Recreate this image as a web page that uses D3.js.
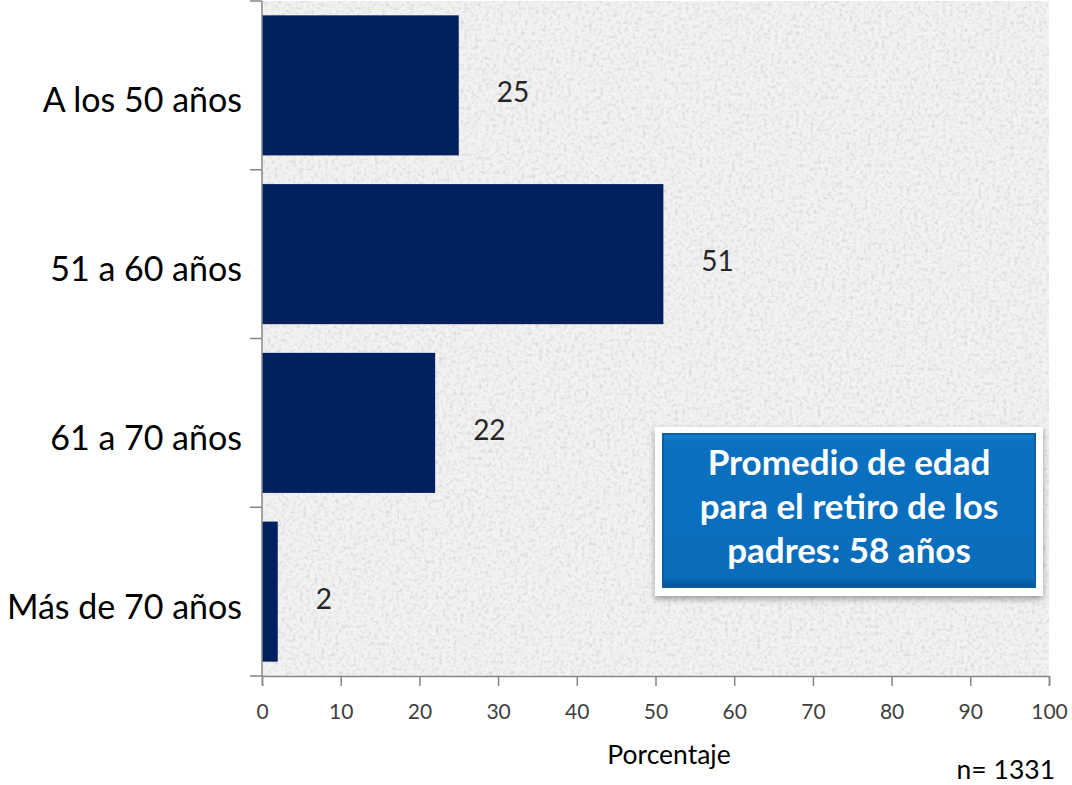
<!DOCTYPE html>
<html><head><meta charset="utf-8">
<script src="https://cdn.jsdelivr.net/npm/d3@7"></script>
<style>body{margin:0;background:#fff;}svg{display:block;}</style>
</head><body>
<svg id="c" width="1072" height="785"></svg>
<script>
const categories = ["A los 50 años", "51 a 60 años", "61 a 70 años", "Más de 70 años"];
const values = [25, 51, 22, 2];
const xTicks = [0, 10, 20, 30, 40, 50, 60, 70, 80, 90, 100];
const axisTitle = "Porcentaje";
const noteText = "n= 1331";
const boxLines = ["Promedio de edad", "para el retiro de los", "padres: 58 años"];

(function () {
const FONT = "Lato, 'Open Sans', sans-serif";
const svg = d3.select("#c");
const pL = 262, pR = 1049, pT = 1, pB = 676;

const x = d3.scaleLinear().domain([0, 100]).range([pL, pR]);
const y = d3.scaleBand().domain(categories).range([pT, pB]).paddingInner(0.17).paddingOuter(0.085);

// texture
const defs = svg.append("defs");
const f = defs.append("filter").attr("id", "granite").attr("x", 0).attr("y", 0).attr("width", "100%").attr("height", "100%");
f.append("feTurbulence").attr("type", "fractalNoise").attr("baseFrequency", 0.28).attr("numOctaves", 3).attr("seed", 4).attr("result", "n");
f.append("feColorMatrix").attr("in", "n").attr("type", "matrix")
  .attr("values", "0 0 0 0 0  0 0 0 0 0  0 0 0 0 0  0 0 0 -1.4 0.76").attr("result", "a");
f.append("feFlood").attr("flood-color", "#c2c2c2").attr("result", "fl");
f.append("feComposite").attr("in", "fl").attr("in2", "a").attr("operator", "in").attr("result", "dots");
f.append("feFlood").attr("flood-color", "#f2f2f2").attr("result", "bg");
f.append("feMerge").call(m => { m.append("feMergeNode").attr("in", "bg"); m.append("feMergeNode").attr("in", "dots"); });

svg.append("rect").attr("x", pL).attr("y", pT).attr("width", pR - pL).attr("height", pB - pT)
  .attr("filter", "url(#granite)");

// bars
svg.append("g").selectAll("rect").data(categories).join("rect")
  .attr("x", x(0)).attr("y", d => y(d))
  .attr("width", (d, i) => x(values[i]) - x(0)).attr("height", y.bandwidth())
  .attr("fill", "#002060");

// value labels
svg.append("g").selectAll("text").data(categories).join("text")
  .attr("x", (d, i) => x(values[i]) + 38).attr("y", d => y(d) + y.bandwidth() / 2 + 17)
  .attr("font-family", FONT).attr("font-size", 28).attr("fill", "#262626")
  .text((d, i) => values[i]);

// x axis
const xa = svg.append("g").attr("transform", `translate(0,${pB})`)
  .call(d3.axisBottom(x).tickValues(xTicks).tickSize(10).tickPadding(18));
xa.select(".domain").attr("stroke", "#868686").attr("stroke-width", 1.5);
xa.selectAll(".tick line").attr("stroke", "#868686").attr("stroke-width", 1.5);
xa.selectAll("text").attr("font-family", FONT).attr("font-size", 21).attr("fill", "#404040");

// y axis
const yBounds = d3.scaleLinear().domain([0, categories.length]).range([pT, pB]);
const ya = svg.append("g").attr("transform", `translate(${pL},0)`);
ya.append("line").attr("x1", 0).attr("x2", 0).attr("y1", pT).attr("y2", pB).attr("stroke", "#868686").attr("stroke-width", 1.5);
ya.selectAll("line.t").data(d3.range(categories.length + 1)).join("line").attr("class", "t")
  .attr("x1", -12).attr("x2", 0).attr("y1", d => yBounds(d)).attr("y2", d => yBounds(d))
  .attr("stroke", "#868686").attr("stroke-width", 1.5);
ya.selectAll("text").data(categories).join("text")
  .attr("x", -20).attr("y", d => y(d) + y.bandwidth() / 2 + 27)
  .attr("text-anchor", "end").attr("font-family", FONT).attr("font-size", 34).attr("fill", "#000")
  .text(d => d);

// axis title
svg.append("text").attr("x", 669).attr("y", 764).attr("text-anchor", "middle")
  .attr("font-family", FONT).attr("font-size", 26.5).attr("fill", "#000").text(axisTitle);
svg.append("text").attr("x", 1055).attr("y", 779).attr("text-anchor", "end")
  .attr("font-family", FONT).attr("font-size", 26.5).attr("fill", "#000").text(noteText);

// callout box
const sh = defs.append("filter").attr("id", "sh").attr("x", "-10%").attr("y", "-10%").attr("width", "120%").attr("height", "130%");
sh.append("feDropShadow").attr("dx", 0).attr("dy", 3).attr("stdDeviation", 3).attr("flood-color", "#000").attr("flood-opacity", 0.35);
const bx = 655, by = 427, bw = 388, bh = 169;
const g = svg.append("g");
g.append("rect").attr("x", bx).attr("y", by).attr("width", bw).attr("height", bh).attr("fill", "#fff").attr("filter", "url(#sh)");
const ix = bx + 7, iy = by + 6, iw = bw - 14, ih = bh - 14;
const lg = defs.append("linearGradient").attr("id", "bevel").attr("x1", 0).attr("y1", 0).attr("x2", 0).attr("y2", 1);
lg.append("stop").attr("offset", "0").attr("stop-color", "#1a7fcf");
lg.append("stop").attr("offset", "0.06").attr("stop-color", "#0a70c0");
lg.append("stop").attr("offset", "0.93").attr("stop-color", "#0a6dbc");
lg.append("stop").attr("offset", "1").attr("stop-color", "#05508f");
g.append("rect").attr("x", ix).attr("y", iy).attr("width", iw).attr("height", ih).attr("fill", "url(#bevel)");
g.append("rect").attr("x", ix + 1).attr("y", iy + 1).attr("width", iw - 2).attr("height", ih - 2).attr("fill", "none")
  .attr("stroke", "#0a5fa5").attr("stroke-width", 2);
g.selectAll("text").data(boxLines).join("text")
  .attr("x", ix + iw / 2).attr("y", (d, i) => 475 + i * 44).attr("text-anchor", "middle")
  .attr("font-family", FONT).attr("font-weight", "bold").attr("font-size", 35).attr("fill", "#fff")
  .text(d => d);
})();
</script>
</body></html>
